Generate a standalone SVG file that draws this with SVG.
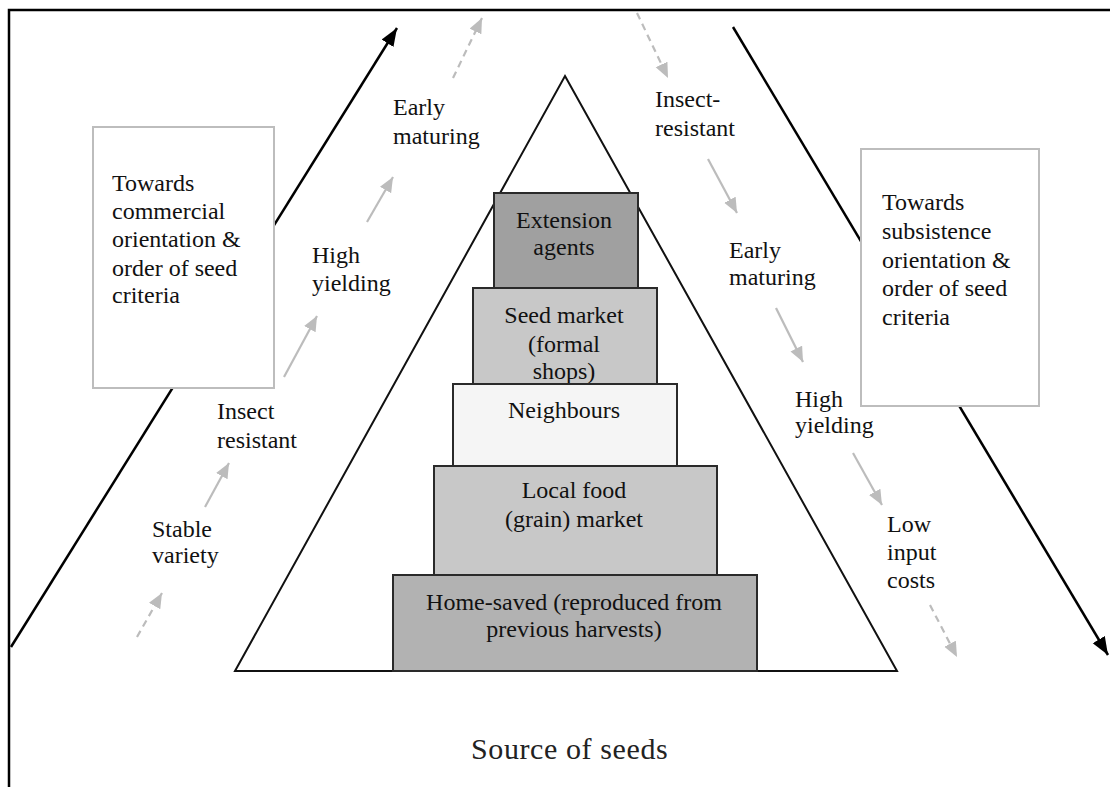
<svg xmlns="http://www.w3.org/2000/svg" width="1110" height="787" viewBox="0 0 1110 787">
<style>
text{font-family:"Liberation Serif","Times New Roman",serif;font-size:24px;fill:#111}
.tier{stroke:#2a2a2a;stroke-width:2}
.crit{fill:#fff;stroke:#bdbdbd;stroke-width:2}
.blk{stroke:#000;stroke-width:2.5;fill:none}
.gry{stroke:#bcbcbc;stroke-width:2.2;fill:none}
.dash{stroke-dasharray:7 5}
.c{text-anchor:middle}
</style>
<defs>
<marker id="ab" markerUnits="userSpaceOnUse" markerWidth="20" markerHeight="16" refX="18" refY="7" orient="auto">
<path d="M0,0 L18,7 L0,14 Z" fill="#000"/>
</marker>
<marker id="ag" markerUnits="userSpaceOnUse" markerWidth="16" markerHeight="14" refX="15" refY="6.5" orient="auto">
<path d="M0,0 L15,6.5 L0,13 Z" fill="#bcbcbc"/>
</marker>
</defs>
<rect width="1110" height="787" fill="#fff"/>
<g id="frame" fill="none" stroke="#000" stroke-width="2.5">
<path d="M9,787 L9,10 L1110,10"/>
</g>
<g id="connectors">
<line class="blk" x1="11" y1="647" x2="397" y2="28" marker-end="url(#ab)"/>
<line class="blk" x1="733" y1="27" x2="1108" y2="655" marker-end="url(#ab)"/>
<line class="gry dash" x1="137" y1="637" x2="162" y2="593" marker-end="url(#ag)"/>
<line class="gry" x1="205" y1="507" x2="229" y2="463" marker-end="url(#ag)"/>
<line class="gry" x1="284" y1="377" x2="317" y2="316" marker-end="url(#ag)"/>
<line class="gry" x1="367" y1="222" x2="393" y2="177" marker-end="url(#ag)"/>
<line class="gry dash" x1="453" y1="78" x2="482" y2="18" marker-end="url(#ag)"/>
<line class="gry dash" x1="637" y1="13" x2="668" y2="78" marker-end="url(#ag)"/>
<line class="gry" x1="708" y1="159" x2="737" y2="213" marker-end="url(#ag)"/>
<line class="gry" x1="776" y1="308" x2="803" y2="362" marker-end="url(#ag)"/>
<line class="gry" x1="853" y1="453" x2="882" y2="505" marker-end="url(#ag)"/>
<line class="gry dash" x1="930" y1="605" x2="957" y2="657" marker-end="url(#ag)"/>
</g>
<g id="commercial">
<rect class="crit" x="93" y="127" width="181" height="261"/>
<text x="112" y="191">Towards</text>
<text x="112" y="219">commercial</text>
<text x="112" y="247">orientation &amp;</text>
<text x="112" y="276">order of seed</text>
<text x="112" y="303">criteria</text>
</g>
<g id="subsistence">
<rect class="crit" x="861" y="149" width="178" height="257"/>
<text x="882" y="210">Towards</text>
<text x="882" y="239">subsistence</text>
<text x="882" y="268">orientation &amp;</text>
<text x="882" y="296">order of seed</text>
<text x="882" y="325">criteria</text>
</g>
<g id="pyramid">
<path d="M565,76 L897,671 L235,671 Z" fill="#fff" stroke="#111" stroke-width="2" stroke-linejoin="miter"/>
</g>
<g id="extension">
<rect class="tier" x="494" y="193" width="144" height="95" fill="#a0a0a0"/>
<text class="c" x="564" y="228">Extension</text>
<text class="c" x="564" y="255">agents</text>
</g>
<g id="seedmarket">
<rect class="tier" x="473" y="288" width="184" height="96" fill="#c8c8c8"/>
<text class="c" x="564" y="323">Seed market</text>
<text class="c" x="564" y="352">(formal</text>
<text class="c" x="564" y="379">shops)</text>
</g>
<g id="neighbours">
<rect class="tier" x="453" y="384" width="224" height="82" fill="#f5f5f5"/>
<text class="c" x="564" y="418">Neighbours</text>
</g>
<g id="localfood">
<rect class="tier" x="434" y="466" width="283" height="109" fill="#c8c8c8"/>
<text class="c" x="574" y="498">Local food</text>
<text class="c" x="574" y="527">(grain) market</text>
</g>
<g id="homesaved">
<rect class="tier" x="393" y="575" width="364" height="96" fill="#b2b2b2"/>
<text class="c" x="574" y="610">Home-saved (reproduced from</text>
<text class="c" x="574" y="637">previous harvests)</text>
</g>
<g id="labels-left">
<text x="152" y="537">Stable</text>
<text x="152" y="563">variety</text>
<text x="217" y="419">Insect</text>
<text x="217" y="448">resistant</text>
<text x="312" y="263">High</text>
<text x="312" y="291">yielding</text>
<text x="393" y="115">Early</text>
<text x="393" y="144">maturing</text>
</g>
<g id="labels-right">
<text x="655" y="107">Insect-</text>
<text x="655" y="136">resistant</text>
<text x="729" y="258">Early</text>
<text x="729" y="285">maturing</text>
<text x="795" y="407">High</text>
<text x="795" y="433">yielding</text>
<text x="887" y="532">Low</text>
<text x="887" y="560">input</text>
<text x="887" y="588">costs</text>
</g>
<g id="title">
<text x="471" y="759" style="font-size:30px;letter-spacing:0.6px;fill:#222">Source of seeds</text>
</g>
</svg>
